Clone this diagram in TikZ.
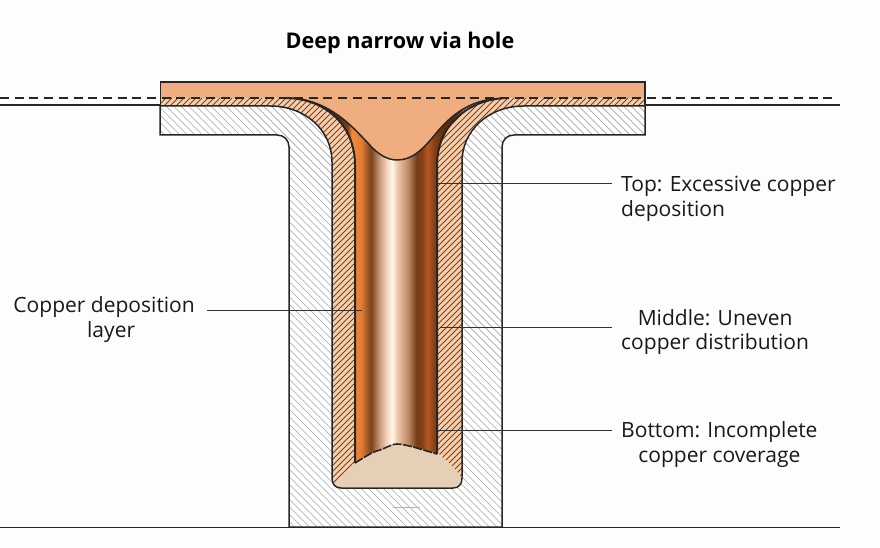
\documentclass[tikz,border=0pt]{standalone}
\usepackage{fontspec}
\setmainfont{Open Sans}
\usepackage{tikz}
\usetikzlibrary{calc}
\definecolor{paper}{HTML}{FDFDFB}
\definecolor{platecu}{HTML}{F0AE80}
\definecolor{layercu}{HTML}{F9CDA8}
\definecolor{hatchcu}{HTML}{6B4630}
\definecolor{beige}{HTML}{E6D0B5}
\definecolor{tubedark}{HTML}{5E2A0E}
\definecolor{tubeedge}{HTML}{8A3F14}
\definecolor{tubeorange}{HTML}{F58A3E}
\definecolor{tubemid}{HTML}{E07C32}
\definecolor{tubebrown}{HTML}{7A421E}
\definecolor{tubetan}{HTML}{D2A080}
\definecolor{tubepale}{HTML}{F6D6BC}
\definecolor{tubelight}{HTML}{FFF6EA}
\definecolor{tubesoft}{HTML}{EDC7A8}
\definecolor{tubeclay}{HTML}{C08A66}
\definecolor{tubedeep}{HTML}{743C1A}
\definecolor{tuberust}{HTML}{B25A22}
\pgfdeclarehorizontalshading{viatube}{100bp}{
  color(0bp)=(tubedark); color(37.5bp)=(tubedark); color(39.85bp)=(tubeedge);
  color(40.7bp)=(tubeorange); color(43bp)=(tubemid); color(45.3bp)=(tubebrown);
  color(47.5bp)=(tubetan); color(49bp)=(tubepale); color(50.25bp)=(tubelight);
  color(51.5bp)=(tubesoft); color(54bp)=(tubeclay); color(56bp)=(tubedeep);
  color(57.3bp)=(tubeedge); color(58.6bp)=(tuberust); color(60.15bp)=(tubeedge);
  color(62.5bp)=(tubedark); color(100bp)=(tubedark)}
\tikzstyle{outline} = [line width=1.5pt, black!85]
\tikzstyle{leader} = [line width=1pt, black!80]
\tikzstyle{subhatch} = [line width=0.7pt, black!35]
\tikzstyle{cuhatch} = [line width=0.75pt, hatchcu]
\tikzstyle{callout} = [font=\fontsize{21}{24.7}\selectfont, text=black!90, inner xsep=9pt, inner ysep=0pt]
\def\substratepath{(160,106) -- (160,135) -- (277,135) .. controls (284,135) and (289,140) .. (289,147) -- (289,527) -- (502,527) -- (502,147) .. controls (502,140) and (507,135) .. (514,135) -- (645,135) -- (645,106) -- (524,106) .. controls (489,106) and (462,130) .. (462,162) -- (462,478) .. controls (462,484) and (459,488) .. (453,488) -- (341,488) .. controls (335,488) and (332,484) .. (332,478) -- (332,162) .. controls (332,130) and (305,106) .. (270,106) -- cycle}
\def\layerpath{(160,98) -- (285,98) .. controls (325,98) and (355,125) .. (355,165) -- (355,463) -- (335,486) .. controls (333,484) and (332,482) .. (332,478) -- (332,162) .. controls (332,130) and (305,106) .. (270,106) -- (160,106) -- cycle (509,98) -- (645,98) -- (645,106) -- (524,106) .. controls (489,106) and (462,130) .. (462,162) -- (462,478) -- (438,453) -- (437,165) .. controls (437,125) and (469,98) .. (509,98) -- cycle}
\begin{document}
\begin{tikzpicture}[x=1pt, y=-1pt]
	\useasboundingbox (0,0) rectangle (880,548);
	\fill[paper] (0,0) rectangle (880,548);

	%substrate
	\fill[white] \substratepath;
	\begin{scope}
		\clip \substratepath;
		\foreach \k in {-420,-412.5,...,660}
			\draw[subhatch] (\k,90) -- ++(450,450);
	\end{scope}

	%copper layer
	\fill[layercu] \layerpath;
	\begin{scope}
		\clip \layerpath;
		\foreach \k in {150,156,...,1100}
			\draw[cuhatch] (\k,90) -- ++(-420,420);
	\end{scope}

	%via tube
	\path[shading=viatube] (295,98) -- (285,98) .. controls (325,98) and (355,125) .. (355,165) -- (355,463) .. controls (365,457) and (372,452) .. (380,450) .. controls (388,447) and (392,444) .. (397,444) .. controls (405,444) and (420,449) .. (437,454) -- (437,165) .. controls (437,125) and (469,98) .. (497,98) -- cycle;

	%void at bottom
	\fill[beige] (335,486.5) .. controls (342,478) and (348,470) .. (355,463) .. controls (365,457) and (372,452) .. (380,450) .. controls (388,447) and (392,444) .. (397,444) .. controls (405,444) and (420,449) .. (437,454) .. controls (447,460) and (455,468) .. (461,477) -- (461,478) .. controls (461,484) and (458,487) .. (453,487) -- (341,487) .. controls (338,487) and (336,487) .. (335,486.5) -- cycle;

	%top plate
	\fill[platecu] (160.5,82) -- (645,82) -- (645,98) -- (497,98) .. controls (465,103) and (448,118) .. (433,137) .. controls (422,150) and (412,160) .. (397,160) .. controls (388,160) and (378,155) .. (368,143) .. controls (355,130) and (335,105) .. (295,98) -- (160.5,98) -- cycle;

	%outlines
	\draw[outline] \substratepath;
	\draw[outline] (160.5,106) -- (160.5,82) -- (645,82) -- (645,106);
	\draw[outline] (300,99) .. controls (335,105) and (355,130) .. (368,143) .. controls (378,155) and (388,160) .. (397,160) .. controls (412,160) and (422,150) .. (433,137) .. controls (448,118) and (465,103) .. (492,99);
	\draw[outline, line width=2pt] (285,98) .. controls (325,98) and (355,125) .. (355,165) -- (355,463);
	\draw[outline, line width=2pt] (509,98) .. controls (469,98) and (437,125) .. (437,165) -- (437,454);
	\draw[outline, line width=1.6pt, dash pattern=on 9pt off 1.5pt] (355,463) .. controls (365,457) and (372,452) .. (380,450) .. controls (388,447) and (392,444) .. (397,444) .. controls (405,444) and (420,449) .. (437,454);
	\draw[black!30, line width=1pt] (393,507) -- (420,507);

	%ground lines
	\coordinate (leftedge) at (0,105);
	\coordinate (rightedge) at (840,105);
	\coordinate (floorleft) at (0,527.5);
	\coordinate (floorright) at (840,527.5);
	\coordinate (dashleft) at (0,98);
	\coordinate (dashright) at (836,98);
	\draw[outline] (leftedge) -- (160,105);
	\draw[outline] (645,105) -- (rightedge);
	\draw[outline] (floorleft) -- (floorright);
	\draw[outline, dash pattern=on 9pt off 5.7pt] (dashleft) -- (dashright);

	%labels
	\node(title) at (400,43) [font=\fontsize{21.6}{25}\selectfont\bfseries, text=black]{Deep narrow via hole};
	\node(toplabel)[callout, anchor=west, align=left] at (612,199){Top: Excessive copper\\deposition};
	\node(midlabel)[callout, anchor=west, align=center] at (612,332){Middle: Uneven\\copper distribution};
	\node(botlabel)[callout, anchor=west, align=center] at (612,444.5){Bottom: Incomplete\\copper coverage};
	\node(layerlabel)[callout, anchor=east, align=center, inner xsep=12pt] at (207,319.5){Copper deposition\\\hspace{14pt}layer};

	%leader lines
	\coordinate (topend) at (437,184);
	\coordinate (midend) at (440,327);
	\coordinate (botend) at (437,430);
	\coordinate (layerend) at (362,310);
	\draw[leader] (topend) -- (topend -| toplabel.west);
	\draw[leader] (midend) -- (midend -| midlabel.west);
	\draw[leader] (botend) -- (botend -| botlabel.west);
	\draw[leader] (layerend) -- (layerend -| layerlabel.east);
\end{tikzpicture}
\end{document}
